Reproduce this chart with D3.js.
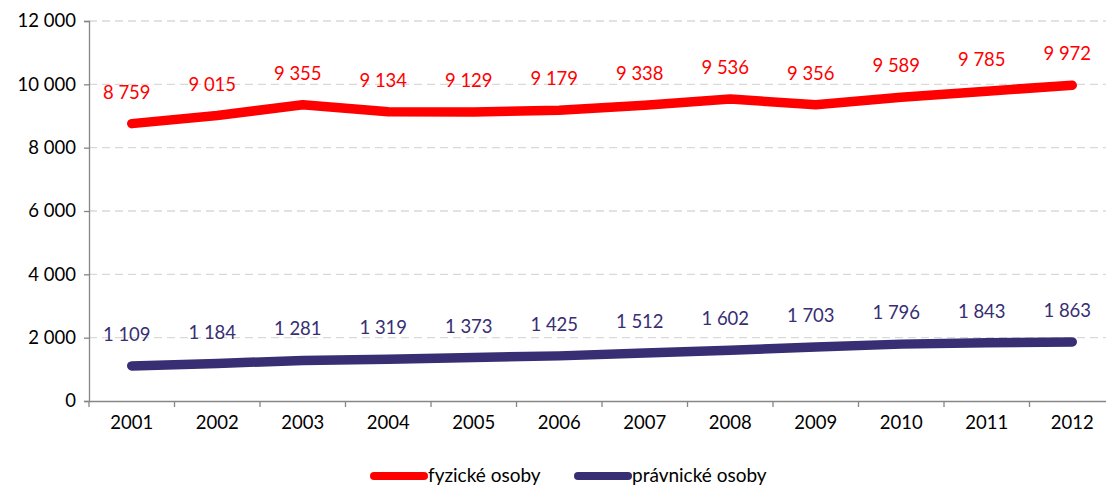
<!DOCTYPE html>
<html lang="cs">
<head>
  <meta charset="utf-8" />
  <title>Osoby 2001-2012</title>
  <script src="https://cdn.jsdelivr.net/npm/d3@7"></script>
  <style>
    body { margin: 0; background: #fff; }
    svg { display: block; font-family: Lato, "Open Sans", sans-serif; }
  </style>
</head>
<body>
  <script>
    // data
    var years = ["2001", "2002", "2003", "2004", "2005", "2006", "2007", "2008", "2009", "2010", "2011", "2012"];
    var fyzicke = [8759, 9015, 9355, 9134, 9129, 9179, 9338, 9536, 9356, 9589, 9785, 9972];
    var pravnicke = [1109, 1184, 1281, 1319, 1373, 1425, 1512, 1602, 1703, 1796, 1843, 1863];
    var seriesNames = ["fyzické osoby", "právnické osoby"];
    var yTicks = [0, 2000, 4000, 6000, 8000, 10000, 12000];

    var width = 1106, height = 487;
    var plotLeft = 89, plotRight = 1115, plotTop = 21, plotBottom = 401;
    var fontSize = 18.5;

    var svg = d3.select("body").append("svg")
      .attr("width", width)
      .attr("height", height);

    var x = d3.scaleBand().domain(years).range([plotLeft, plotRight]);
    var y = d3.scaleLinear().domain([0, 12000]).range([plotBottom, plotTop]);

    var fmt = function (v) { return d3.format(",")(v).replace(/,/g, " "); };

    // gridlines
    svg.append("g")
      .selectAll("line")
      .data(yTicks.slice(1))
      .enter()
      .append("line")
      .attr("x1", plotLeft)
      .attr("x2", width)
      .attr("y1", function (d) { return y(d); })
      .attr("y2", function (d) { return y(d); })
      .attr("stroke", "#d9d9d9")
      .attr("stroke-width", 1.3)
      .attr("stroke-dasharray", "8,5");

    // y axis
    var yAxis = svg.append("g")
      .attr("transform", "translate(" + plotLeft + ",0)")
      .call(d3.axisLeft(y).tickValues(yTicks).tickFormat(fmt).tickSize(5).tickPadding(8));
    yAxis.select(".domain").attr("stroke", "#868686").attr("stroke-width", 1.3);
    yAxis.selectAll(".tick line").attr("stroke", "#868686").attr("stroke-width", 1.3);
    yAxis.selectAll("text").attr("font-size", fontSize).attr("fill", "#000")
      .attr("font-family", "Lato, sans-serif");

    // x axis
    var xAxis = svg.append("g")
      .attr("transform", "translate(0," + plotBottom + ")")
      .call(d3.axisBottom(x).tickSize(0).tickPadding(15));
    xAxis.select(".domain").attr("stroke", "#868686").attr("stroke-width", 1.3);
    xAxis.selectAll("text").attr("font-size", fontSize).attr("fill", "#000")
      .attr("font-family", "Lato, sans-serif");
    // tick marks on band boundaries
    xAxis.selectAll(".bound")
      .data(years)
      .enter()
      .append("line")
      .attr("class", "bound")
      .attr("x1", function (d) { return x(d); })
      .attr("x2", function (d) { return x(d); })
      .attr("y1", 0)
      .attr("y2", 6)
      .attr("stroke", "#868686")
      .attr("stroke-width", 1.3);

    var series = [
      { name: seriesNames[0], values: fyzicke, color: "#ff0000" },
      { name: seriesNames[1], values: pravnicke, color: "#372e73" }
    ];

    var line = d3.line()
      .x(function (d, i) { return x(years[i]) + x.bandwidth() / 2; })
      .y(function (d) { return y(d); });

    series.forEach(function (s) {
      svg.append("path")
        .datum(s.values)
        .attr("d", line)
        .attr("fill", "none")
        .attr("stroke", s.color)
        .attr("stroke-width", 9.5)
        .attr("stroke-linecap", "round")
        .attr("stroke-linejoin", "round");

      svg.append("g")
        .selectAll("text")
        .data(s.values)
        .enter()
        .append("text")
        .attr("x", function (d, i) { return x(years[i]) + x.bandwidth() / 2 - 5; })
        .attr("y", function (d) { return y(d) - 25; })
        .attr("text-anchor", "middle")
        .attr("font-size", fontSize)
        .attr("fill", s.color)
        .text(fmt);
    });

    // legend
    var legend = svg.append("g").attr("transform", "translate(0,476)");
    var legX = [374, 578];
    series.forEach(function (s, i) {
      legend.append("line")
        .attr("x1", legX[i])
        .attr("x2", legX[i] + 50)
        .attr("y1", 0)
        .attr("y2", 0)
        .attr("stroke", s.color)
        .attr("stroke-width", 8)
        .attr("stroke-linecap", "round");
      legend.append("text")
        .attr("x", legX[i] + 54)
        .attr("y", 6)
        .attr("font-size", 19)
        .attr("fill", "#000")
        .text(s.name);
    });
  </script>
</body>
</html>
